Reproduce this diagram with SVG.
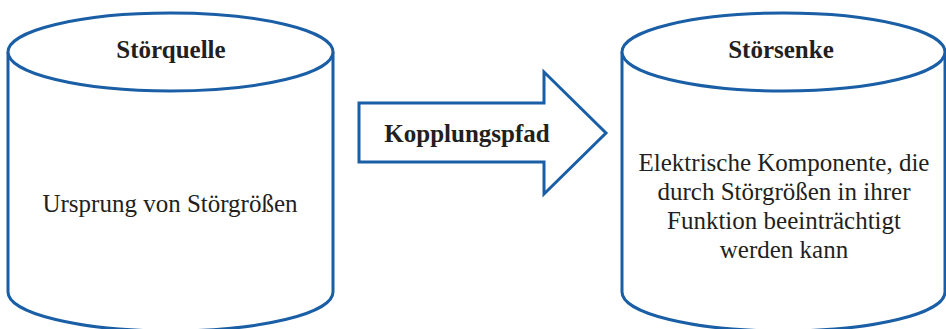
<svg xmlns="http://www.w3.org/2000/svg" width="946" height="329" viewBox="0 0 946 329">
<style>
.sh{fill:#fff;stroke:#1a5ea6;stroke-width:3;stroke-linejoin:miter}
text{font-family:'Liberation Serif','Times New Roman',serif;fill:#231f20;text-anchor:middle;font-size:25px}
.b{font-weight:bold}
</style>
<rect width="946" height="329" fill="#fff"/>
<g id="stoerquelle">
<path class="sh" d="M8,52 L8,292 A162.5,39 0 0 0 333,292 L333,52"/>
<ellipse class="sh" cx="170.5" cy="52" rx="162.5" ry="39"/>
<text class="b" x="171" y="58">Störquelle</text>
<text x="170" y="212">Ursprung von Störgrößen</text>
</g>
<g id="connectors">
<g id="kopplungspfad">
<path class="sh" d="M359,103 L544,103 L544,72 L606,133 L544,194 L544,162 L359,162 Z"/>
<text class="b" x="467" y="142">Kopplungspfad</text>
</g>
</g>
<g id="stoersenke">
<path class="sh" d="M622,52 L622,292 A161.5,39 0 0 0 945,292 L945,52"/>
<ellipse class="sh" cx="783.5" cy="52" rx="161.5" ry="39"/>
<text class="b" x="781" y="58">Störsenke</text>
<text x="784" y="171">Elektrische Komponente, die</text>
<text x="784" y="200">durch Störgrößen in ihrer</text>
<text x="784" y="229">Funktion beeinträchtigt</text>
<text x="784" y="258">werden kann</text>
</g>
</svg>
